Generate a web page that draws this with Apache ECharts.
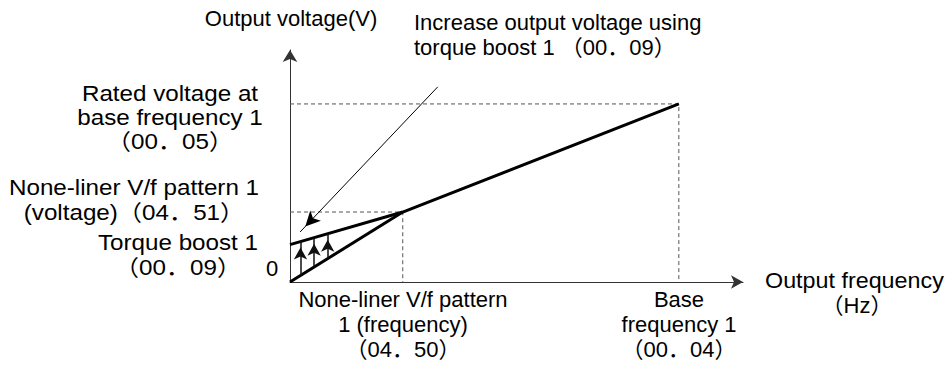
<!DOCTYPE html>
<html>
<head>
<meta charset="utf-8">
<script src="https://cdn.jsdelivr.net/npm/echarts@6/dist/echarts.min.js"></script>
<style>
  html, body { margin: 0; padding: 0; background: #fff; }
  #chart { width: 952px; height: 372px; }
</style>
</head>
<body>
<div id="chart"></div>
<script>
// V/f pattern 1 with torque boost (frequency in % of base frequency, voltage in % of rated voltage)
const torqueBoost = 21;          // 00.09
const nonlinearFreq = 29;        // 04.50
const nonlinearVolt = 39.3;      // 04.51
const baseFreq = 100;            // 00.04
const ratedVolt = 100;           // 00.05

const boostedPattern = [[0, torqueBoost], [nonlinearFreq, nonlinearVolt], [baseFreq, ratedVolt]];
const linearPattern = [[0, 0], [nonlinearFreq, nonlinearVolt]];

// small arrows showing the boost: [frequency, voltage from, voltage to]
const boostArrows = [[2.7, 3.7, 22.7], [6.2, 8.4, 24.9], [9.7, 13.1, 27.1]];
// leader arrow from the description text down to the boost
const leaderArrow = [[38, 109.6], [2.6, 28.1]];

const FONT = "'Liberation Sans', Arial, 'Noto Sans CJK SC', sans-serif";
const txt = (style) => Object.assign({ fill: '#000', font: '22px ' + FONT }, style);

const chart = echarts.init(document.getElementById('chart'), null, { renderer: 'svg' });

chart.setOption({
  animation: false,
  backgroundColor: '#fff',
  grid: { left: 290, right: 209, top: 50, bottom: 90 },
  xAxis: {
    type: 'value', min: 0, max: 116.5,
    axisLine: { show: true, symbol: ['none', 'arrow'], symbolSize: [10, 12], lineStyle: { color: '#333', width: 1 } },
    axisTick: { show: false }, axisLabel: { show: false }, splitLine: { show: false }
  },
  yAxis: {
    type: 'value', min: 0, max: 130.3,
    axisLine: { show: true, symbol: ['none', 'arrow'], symbolSize: [11, 12], lineStyle: { color: '#333', width: 1 } },
    axisTick: { show: false }, axisLabel: { show: false }, splitLine: { show: false }
  },
  series: [
    {
      type: 'line', data: [[0, ratedVolt], [baseFreq, ratedVolt], [baseFreq, 0]],
      symbol: 'none', lineStyle: { color: '#555', width: 1, type: [4, 3] }, z: 1
    },
    {
      type: 'line', data: [[0, nonlinearVolt], [nonlinearFreq, nonlinearVolt], [nonlinearFreq, 0]],
      symbol: 'none', lineStyle: { color: '#555', width: 1, type: [4, 3] }, z: 1
    },
    {
      type: 'line', data: linearPattern,
      symbol: 'none', lineStyle: { color: '#000', width: 3 }, z: 3
    },
    {
      type: 'line', data: boostedPattern,
      symbol: 'none', lineStyle: { color: '#000', width: 3 }, z: 3
    },
    {
      type: 'line', data: [], z: 4,
      markLine: {
        silent: true, symbol: ['none', 'arrow'], symbolSize: [10, 12], symbolOffset: [0, [0, 6]],
        label: { show: false },
        lineStyle: { color: '#111', width: 1.5, type: 'solid' },
        data: boostArrows.map(a => [{ coord: [a[0], a[1]] }, { coord: [a[0], a[2]] }])
      }
    },
    {
      type: 'line', data: [], z: 4,
      markLine: {
        silent: true, symbol: ['none', 'arrow'], symbolSize: [11, 15], symbolOffset: [0, [0, 7.5]],
        label: { show: false },
        lineStyle: { color: '#000', width: 1, type: 'solid' },
        data: [[{ coord: leaderArrow[0] }, { coord: leaderArrow[1] }]]
      }
    }
  ],
  graphic: [
    { type: 'text', x: 291, y: 18, style: txt({ text: 'Output voltage(V)', align: 'center', verticalAlign: 'middle' }) },
    { type: 'text', x: 414, y: 10, style: txt({ text: 'Increase output voltage using\ntorque boost 1 （00．09）', align: 'left', verticalAlign: 'top', lineHeight: 25 }) },
    { type: 'text', x: 170, y: 81, scaleX: 1.1, style: txt({ text: 'Rated voltage at\nbase frequency 1\n（00．05）', align: 'center', verticalAlign: 'top', lineHeight: 24 }) },
    { type: 'text', x: 134, y: 175, scaleX: 1.1, style: txt({ text: 'None-liner V/f pattern 1\n(voltage)（04．51）', align: 'center', verticalAlign: 'top', lineHeight: 25 }) },
    { type: 'text', x: 178, y: 230, scaleX: 1.1, style: txt({ text: 'Torque boost 1\n（00．09）', align: 'center', verticalAlign: 'top', lineHeight: 25 }) },
    { type: 'text', x: 272, y: 268, style: txt({ text: '0', align: 'center', verticalAlign: 'middle' }) },
    { type: 'text', x: 403, y: 287, style: txt({ text: 'None-liner V/f pattern\n1 (frequency)\n（04．50）', align: 'center', verticalAlign: 'top', lineHeight: 25 }) },
    { type: 'text', x: 679, y: 287, style: txt({ text: 'Base\nfrequency 1\n（00．04）', align: 'center', verticalAlign: 'top', lineHeight: 25 }) },
    { type: 'text', x: 765, y: 280, scaleX: 1.06, style: txt({ text: 'Output frequency', align: 'left', verticalAlign: 'middle' }) },
    { type: 'text', x: 857, y: 305, style: txt({ text: '（Hz）', align: 'center', verticalAlign: 'middle' }) }
  ]
});
</script>
</body>
</html>
